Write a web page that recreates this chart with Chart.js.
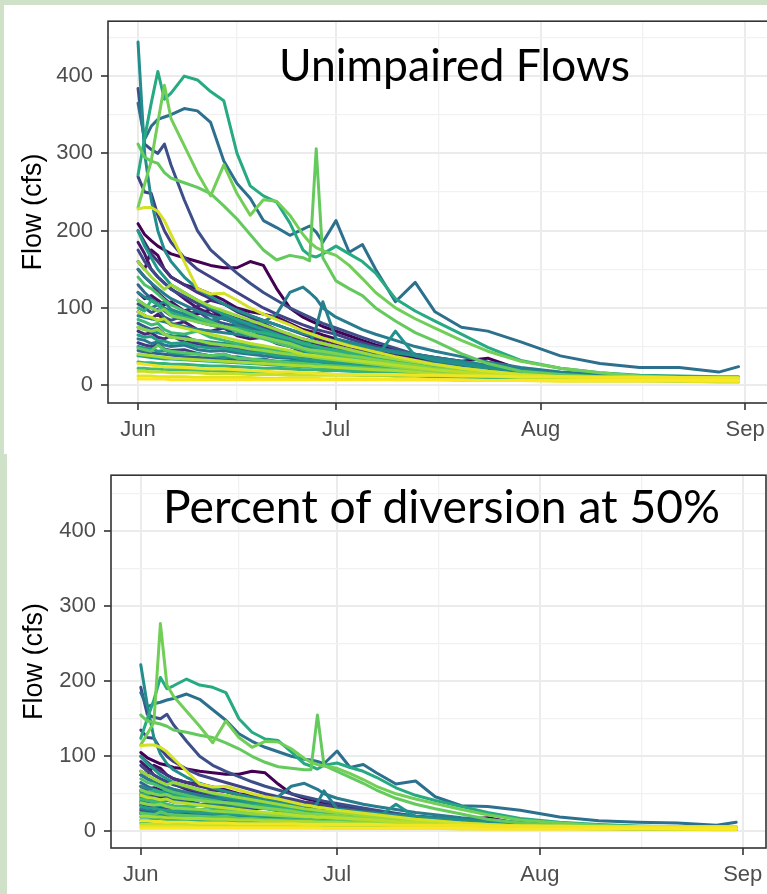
<!DOCTYPE html>
<html>
<head>
<meta charset="utf-8">
<title>Flow (cfs)</title>
<script src="https://cdn.jsdelivr.net/npm/chart.js@4.4.1/dist/chart.umd.min.js"></script>
<style>
  html, body { margin: 0; padding: 0; }
  body { width: 767px; height: 894px; overflow: hidden; background: #cfe1c8; position: relative; }
  .panel { position: absolute; background: #fff; }
  #panelTop { left: 4px; top: 5px; width: 790px; height: 449px; }
  #panelBottom { left: 7px; top: 454px; width: 790px; height: 440px; }
  canvas { position: absolute; left: 0; }
  #chartTop { top: 0; }
  #chartBottom { top: 454px; }
  .caption { position: absolute; font-family: Lato, "Open Sans", sans-serif; color: #000; white-space: nowrap; line-height: 1; }
</style>
</head>
<body>
<div class="panel" id="panelTop"></div>
<div class="panel" id="panelBottom"></div>
<canvas id="chartTop" width="790" height="452"></canvas>
<canvas id="chartBottom" width="790" height="440"></canvas>
<div class="caption" id="captionTop">Unimpaired Flows</div>
<div class="caption" id="captionBottom">Percent of diversion at 50%</div>

<script>
// days since Jun 1 for every sample in the series below
const dayGrid = [0,1,2,3,4, 5,7,9,11,13, 15,17,19,21,23, 25,26,27,28,30, 32,34,36,39,42, 45,49,53,58,64, 70,76,82,88,91];

// x axis: month starts (days since Jun 1) and their labels
const monthDays = [0, 30, 61, 92];
const monthLabels = ['Jun', 'Jul', 'Aug', 'Sep'];
const midMonthDays = [15, 45.5, 76.5];

// y axis breaks
const flowTicks = [0, 100, 200, 300, 400];
const flowMinorTicks = [50, 150, 250, 350, 450];

// unimpaired flow (cfs), one row per year, ordered by colour
const unimpairedFlows = [
  [209,195,187,180,175, 170,165,160,155,152, 152,160,155,125,100, 88,84,80,76,70, 64,58,52,46,40, 36,31,35,20,15, 12,10,9,8,8],
  [160,150,175,168,150, 140,130,125,118,110, 100,95,92,88,80, 72,70,68,65,60, 55,50,45,40,35, 30,26,22,17,13, 11,9,8,7,7],
  [120,112,116,110,104, 108,96,92,98,86, 82,84,74,70,66, 55,52,50,48,44, 40,36,33,29,25, 22,19,16,13,10, 8,7,6,6,6],
  [185,170,150,140,132, 125,112,100,92,86, 80,74,70,66,60, 55,53,50,48,45, 42,40,38,34,30, 26,22,18,14,11, 9,8,7,7,7],
  [95,90,86,92,84, 78,82,72,70,74, 64,60,62,54,50, 44,42,40,39,36, 33,30,28,25,22, 19,16,14,11,9, 8,7,6,6,6],
  [150,140,132,120,112, 105,96,102,110,105, 98,90,84,78,72, 66,63,60,58,54, 50,46,42,38,33, 29,25,21,16,13, 11,9,8,7,7],
  [70,66,68,62,60, 64,56,54,50,52, 46,44,45,40,38, 36,35,34,33,31, 29,27,25,22,20, 18,15,13,10,8, 7,6,6,5,5],
  [200,185,170,160,150, 140,130,120,112,105, 95,88,80,72,65, 58,55,52,50,46, 42,38,35,30,26, 22,18,15,12,10, 8,7,7,6,6],
  [55,52,50,53,47, 45,46,41,38,40, 35,33,34,30,28, 27,26,25,24,23, 22,21,20,18,16, 14,12,11,9,8, 7,6,6,5,5],
  [270,250,248,220,200, 185,165,150,140,130, 120,110,100,92,85, 78,75,72,70,66, 60,55,50,44,38, 33,28,23,18,14, 11,9,8,8,8],
  [175,160,150,140,132, 124,115,106,98,92, 86,80,74,69,64, 60,58,56,54,50, 46,43,40,36,32, 28,24,20,16,12, 10,9,8,7,7],
  [384,312,305,300,312, 285,240,200,175,160, 145,132,120,110,100, 92,88,84,80,74, 68,62,56,48,40, 34,28,23,18,14, 12,10,9,8,8],
  [105,100,94,98,88, 84,90,96,84,80, 76,72,64,60,56, 48,46,45,44,42, 40,38,35,31,27, 24,20,17,14,11, 9,8,7,7,7],
  [80,76,72,74,66, 62,64,56,52,54, 48,46,47,42,40, 38,37,36,35,33, 31,29,27,24,21, 18,15,13,11,9, 8,7,6,6,6],
  [45,43,42,41,40, 39,37,36,35,34, 33,31,30,29,28, 27,26,26,25,24, 23,22,21,19,17, 15,13,11,10,8, 7,6,6,5,5],
  [130,120,112,105,100, 95,88,82,78,90, 82,75,70,64,58, 54,52,50,48,45, 42,39,36,32,28, 24,20,17,13,11, 9,8,7,7,7],
  [110,104,100,104,96, 90,84,88,78,74, 70,66,62,60,55, 51,50,49,48,46, 44,42,40,36,32, 28,24,20,16,13, 11,9,8,8,8],
  [365,318,335,344,347, 350,358,355,340,290, 261,242,213,204,194, 202,206,198,185,213, 172,182,150,108,133, 95,75,70,56,38, 28,23,23,17,24],
  [60,58,54,56,52, 50,52,46,44,45, 42,40,38,36,35, 32,31,30,30,29, 28,27,26,24,22, 19,17,15,12,10, 9,8,7,7,7],
  [150,140,132,125,118, 112,104,96,90,86, 82,80,82,92,120, 127,120,112,100,88, 80,72,66,58,50, 44,37,30,23,17, 14,12,11,10,10],
  [90,88,86,84,82, 80,76,72,70,68, 66,64,62,60,58, 55,54,75,108,60, 56,52,48,44,40, 36,31,26,20,15, 12,10,9,8,8],
  [120,114,110,104,108, 98,92,86,84,88, 78,72,66,62,56, 50,48,46,44,40, 37,34,31,27,24, 21,18,15,12,10, 8,7,7,6,6],
  [444,300,240,200,175, 160,140,125,115,105, 97,90,84,78,72, 67,65,63,61,57, 53,50,47,42,38, 34,29,24,19,15, 12,10,9,9,9],
  [75,72,70,68,66, 64,60,58,56,54, 52,50,48,46,44, 42,41,40,39,37, 36,35,34,70,38, 32,27,22,17,13, 11,9,8,8,8],
  [50,48,47,44,45, 42,40,41,38,36, 37,34,33,31,31, 30,29,28,28,27, 26,25,24,22,20, 18,16,14,12,10, 9,8,7,7,7],
  [200,180,165,150,140, 130,120,110,100,92, 85,78,72,66,60, 55,52,50,48,44, 40,37,34,30,26, 22,19,16,13,10, 9,8,7,7,7],
  [65,62,63,58,57, 54,55,50,48,48, 45,42,42,38,37, 34,33,32,31,30, 28,27,25,23,20, 18,15,13,11,9, 8,7,7,6,6],
  [38,37,36,35,34, 34,33,32,31,30, 29,28,27,26,25, 24,24,23,23,22, 21,20,19,18,16, 14,12,11,9,8, 7,6,6,6,6],
  [272,320,365,406,370, 378,400,395,380,368, 300,258,245,237,210, 175,168,166,170,180, 170,160,145,112,96, 83,66,49,32,22, 16,13,12,11,11],
  [100,96,110,104,98, 94,88,84,80,76, 74,70,68,64,60, 54,52,50,48,45, 42,39,36,32,28, 24,20,17,14,11, 9,8,7,7,7],
  [30,29,29,28,28, 27,27,26,25,25, 24,23,22,22,21, 20,20,20,19,19, 18,17,17,16,15, 13,12,10,9,8, 7,6,6,5,5],
  [85,82,78,80,72, 68,66,70,62,58, 54,52,48,45,42, 38,37,36,35,33, 31,29,27,24,21, 18,16,14,11,9, 8,7,6,6,6],
  [22,22,21,21,20, 20,20,19,19,18, 18,17,17,16,16, 15,15,15,15,14, 14,13,13,12,12, 11,10,9,8,7, 6,6,5,5,5],
  [140,130,125,118,110, 104,96,88,82,76, 70,65,60,55,50, 46,44,42,41,38, 35,33,30,27,24, 21,18,15,12,10, 8,7,7,6,6],
  [48,46,44,52,46, 44,42,40,38,40, 35,34,32,31,29, 28,27,27,26,25, 24,23,22,20,18, 16,14,12,10,9, 8,7,6,6,6],
  [312,295,290,287,275, 268,262,256,248,232, 215,195,175,162,168, 165,161,306,165,135, 125,116,100,83,68, 57,41,28,18,14, 11,10,9,8,8],
  [230,260,290,340,388, 345,310,275,245,285, 248,220,240,238,220, 195,185,178,174,168, 155,138,120,100,86, 74,58,44,31,22, 16,12,10,9,9],
  [110,104,100,96,98, 90,86,82,78,76, 72,66,62,58,54, 48,46,45,44,41, 38,36,33,29,26, 22,19,16,13,10, 9,8,7,7,7],
  [75,72,70,72,66, 62,60,58,54,52, 50,47,45,42,40, 38,37,36,35,33, 31,29,27,24,21, 19,16,14,11,9, 8,7,6,6,6],
  [160,150,140,132,124, 130,120,110,102,96, 90,84,78,72,66, 60,58,56,54,50, 46,42,38,34,30, 26,22,18,14,11, 9,8,7,7,7],
  [40,39,38,37,36, 35,34,33,32,31, 30,29,28,27,26, 25,25,24,24,23, 22,21,20,19,17, 15,13,12,10,9, 8,7,6,6,6],
  [95,90,88,84,86, 78,74,70,66,62, 58,54,51,48,45, 40,39,38,37,35, 33,31,29,26,23, 20,17,15,12,10, 8,7,7,6,6],
  [18,18,17,17,17, 16,16,16,15,15, 15,14,14,14,13, 13,13,13,13,13, 13,13,13,13,13, 13,13,12,12,11, 11,11,10,10,10],
  [228,230,230,225,213, 195,160,125,118,119, 110,100,92,85,78, 70,67,64,61,56, 51,47,43,37,32, 27,22,18,14,11, 9,8,7,7,7],
  [12,12,12,11,11, 11,11,10,10,10, 10,10,9,9,9, 9,9,9,8,8, 8,8,8,7,7, 7,6,6,6,5, 5,5,5,4,4],
  [28,27,26,25,24, 24,23,22,21,21, 20,19,18,17,17, 16,16,15,15,14, 14,14,14,14,13, 13,12,12,11,11, 10,10,10,9,9],
  [8,8,8,8,8, 7,7,7,7,7, 7,7,7,7,7, 7,7,7,7,7, 7,7,7,7,7, 7,7,6,6,6, 6,6,6,6,6]
];

// flow (cfs) with 50% of the water diverted, same years and order
const divertedFlows = [
  [105,98,94,90,88, 85,83,80,78,76, 76,80,78,63,50, 44,42,40,38,35, 32,29,26,23,20, 18,16,18,10,8, 6,5,5,4,4],
  [80,75,88,84,75, 70,65,63,59,55, 50,48,46,44,40, 36,35,34,33,30, 28,25,23,20,18, 15,13,11,9,7, 6,5,4,4,4],
  [60,56,58,55,52, 54,48,46,49,43, 41,42,37,35,33, 28,26,25,24,22, 20,18,17,15,13, 11,10,8,7,5, 4,4,3,3,3],
  [93,85,75,70,66, 63,56,50,46,43, 40,37,35,33,30, 28,27,25,24,23, 21,20,19,17,15, 13,11,9,7,6, 5,4,4,4,4],
  [48,45,43,46,42, 39,41,36,35,37, 32,30,31,27,25, 22,21,20,20,18, 17,15,14,13,11, 10,8,7,6,5, 4,4,3,3,3],
  [75,70,66,60,56, 53,48,51,55,53, 49,45,42,39,36, 33,32,30,29,27, 25,23,21,19,17, 15,13,11,8,7, 6,5,4,4,4],
  [35,33,34,31,30, 32,28,27,25,26, 23,22,22,20,19, 18,18,17,17,16, 15,14,13,11,10, 9,8,7,5,4, 4,3,3,3,3],
  [100,92,85,80,75, 70,65,60,56,53, 48,44,40,36,33, 29,28,26,25,23, 21,19,18,15,13, 11,9,8,6,5, 4,4,4,3,3],
  [28,26,25,27,24, 23,23,21,19,20, 18,17,17,15,14, 14,13,13,12,12, 11,11,10,9,8, 7,6,6,5,4, 4,3,3,3,3],
  [135,125,124,110,100, 93,83,75,70,65, 60,55,50,46,43, 39,38,36,35,33, 30,28,25,22,19, 17,14,12,9,7, 6,5,4,4,4],
  [88,80,75,70,66, 62,58,53,49,46, 43,40,37,35,32, 30,29,28,27,25, 23,22,20,18,16, 14,12,10,8,6, 5,5,4,4,4],
  [192,156,152,150,156, 142,120,100,88,80, 73,66,60,55,50, 46,44,42,40,37, 34,31,28,24,20, 17,14,12,9,7, 6,5,5,4,4],
  [53,50,47,49,44, 42,45,48,42,40, 38,36,32,30,28, 24,23,23,22,21, 20,19,18,16,14, 12,10,9,7,6, 5,4,4,4,4],
  [40,38,36,37,33, 31,32,28,26,27, 24,23,23,21,20, 19,19,18,18,17, 16,15,14,12,11, 9,8,7,6,5, 4,4,3,3,3],
  [23,22,21,21,20, 20,19,18,18,17, 17,16,15,15,14, 14,13,13,13,12, 12,11,11,10,9, 8,7,6,5,4, 4,3,3,3,3],
  [65,60,56,53,50, 48,44,41,39,45, 41,38,35,32,29, 27,26,25,24,23, 21,20,18,16,14, 12,10,9,7,6, 5,4,4,4,4],
  [55,52,50,52,48, 45,42,44,39,37, 35,33,31,30,28, 26,25,25,24,23, 22,21,20,18,16, 14,12,10,8,7, 6,5,4,4,4],
  [185,166,170,172,175, 177,183,176,162,148, 130,120,112,106,100, 96,95,93,90,107, 85,89,78,63,67, 46,34,33,28,19, 14,12,11,8,12],
  [30,29,27,28,26, 25,26,23,22,22, 21,20,19,18,17, 16,16,15,15,15, 14,14,13,12,11, 10,9,8,6,5, 5,4,4,4,4],
  [75,70,66,62,59, 56,52,48,45,43, 41,40,41,46,60, 64,60,56,50,44, 40,36,33,29,25, 22,18,15,12,9, 7,6,6,5,5],
  [45,44,43,42,41, 40,38,36,35,34, 33,32,31,30,29, 28,27,38,54,30, 28,26,24,22,20, 18,16,13,10,8, 6,5,5,4,4],
  [60,57,55,52,54, 49,46,43,42,44, 39,36,33,31,28, 25,24,23,22,20, 18,17,16,14,12, 10,9,8,6,5, 4,4,3,3,3],
  [222,168,125,103,90, 82,72,64,58,53, 49,45,42,39,36, 34,33,32,31,29, 27,25,24,21,19, 17,15,12,10,8, 6,5,5,4,4],
  [38,36,35,34,33, 32,30,29,28,27, 26,25,24,23,22, 21,21,20,20,19, 18,18,17,36,19, 16,14,11,9,7, 6,5,4,4,4],
  [25,24,23,22,22, 21,20,20,19,18, 18,17,16,16,15, 15,15,14,14,14, 13,13,12,11,10, 9,8,7,6,5, 5,4,4,4,4],
  [100,90,83,75,70, 65,60,55,50,46, 43,39,36,33,30, 28,26,25,24,22, 20,19,17,15,13, 11,10,8,7,5, 5,4,4,4,4],
  [33,31,31,29,28, 27,27,25,24,24, 22,21,21,19,18, 17,17,16,16,15, 14,14,13,12,10, 9,8,7,6,5, 4,4,4,3,3],
  [19,19,18,18,17, 17,17,16,16,15, 15,14,14,13,13, 12,12,12,12,11, 11,10,10,9,8, 7,6,6,5,4, 4,3,3,3,3],
  [124,150,175,205,190, 194,203,195,192,185, 150,132,123,121,106, 90,87,83,88,91, 85,80,72,58,48, 41,33,25,17,12, 9,7,6,6,6],
  [50,48,55,52,49, 47,44,42,40,38, 37,35,34,32,30, 27,26,25,24,23, 21,20,18,16,14, 12,10,9,7,6, 5,4,4,4,4],
  [15,15,15,14,14, 14,14,13,13,13, 12,12,11,11,11, 10,10,10,10,10, 9,9,9,8,8, 7,6,5,5,4, 4,3,3,3,3],
  [43,41,39,40,36, 34,33,35,31,29, 27,26,24,23,21, 19,19,18,18,17, 16,15,14,12,11, 9,8,7,6,5, 4,4,3,3,3],
  [11,11,11,11,10, 10,10,10,10,9, 9,9,9,8,8, 8,8,8,8,7, 7,7,7,6,6, 6,5,5,4,4, 3,3,3,3,3],
  [70,65,63,59,55, 52,48,44,41,38, 35,33,30,28,25, 23,22,21,21,19, 18,17,15,14,12, 11,9,8,6,5, 4,4,4,3,3],
  [24,23,22,26,23, 22,21,20,19,20, 17,17,16,15,15, 14,14,14,13,13, 12,12,11,10,9, 8,7,6,5,5, 4,4,3,3,3],
  [155,147,145,143,140, 135,132,128,125,118, 110,100,92,86,84, 82,82,155,88,80, 72,64,55,44,36, 30,23,16,11,8, 6,5,5,4,4],
  [115,130,145,277,195, 180,160,140,118,147, 125,112,120,119,110, 97,92,89,87,84, 77,69,60,50,43, 37,29,22,15,11, 8,6,5,5,5],
  [55,52,50,48,49, 45,43,41,39,38, 36,33,31,29,27, 24,23,23,22,21, 19,18,17,15,13, 11,10,8,7,5, 5,4,4,4,4],
  [38,36,35,36,33, 31,30,29,27,26, 25,23,22,21,20, 19,19,18,18,17, 16,15,14,12,11, 10,8,7,6,5, 4,4,3,3,3],
  [80,75,70,66,62, 65,60,55,51,48, 45,42,39,36,33, 30,29,28,27,25, 23,21,19,17,15, 13,11,9,7,6, 5,4,4,4,4],
  [20,20,19,19,18, 18,17,17,16,16, 15,15,14,14,13, 13,13,12,12,12, 11,11,10,10,9, 8,7,6,5,5, 4,4,3,3,3],
  [48,45,44,42,43, 39,37,35,33,31, 29,27,25,24,22, 20,20,19,19,18, 17,16,15,13,12, 10,9,8,6,5, 4,4,4,3,3],
  [9,9,9,9,9, 8,8,8,8,8, 8,8,8,8,8, 8,8,8,8,8, 8,8,8,8,8, 7,7,7,7,6, 6,6,6,6,6],
  [114,115,115,112,106, 97,80,63,59,60, 55,50,46,43,39, 35,34,32,31,28, 26,24,22,19,16, 14,11,9,7,6, 5,4,4,4,4],
  [6,6,6,6,6, 6,6,5,5,5, 5,5,5,5,5, 5,5,5,4,4, 4,4,4,4,4, 4,3,3,3,3, 3,3,3,2,2],
  [14,14,13,13,12, 12,12,11,11,11, 10,10,10,10,10, 9,9,9,9,9, 9,9,9,8,8, 8,8,7,7,7, 6,6,6,6,6],
  [4,4,4,4,4, 4,4,4,4,4, 4,4,4,4,4, 4,4,4,4,4, 4,4,4,4,4, 4,4,3,3,3, 3,3,3,3,3]
];

// viridis colour ramp
const viridisStops = ['#440154','#482475','#414487','#355f8d','#2a788e','#21918c','#22a884','#44bf70','#7ad151','#bddf26','#fde725'];

function hexToRgb(h) {
  return [1, 3, 5].map(i => parseInt(h.slice(i, i + 2), 16));
}

function viridis(t) {
  const pos = t * (viridisStops.length - 1);
  const i = Math.min(Math.floor(pos), viridisStops.length - 2);
  const f = pos - i;
  const a = hexToRgb(viridisStops[i]);
  const b = hexToRgb(viridisStops[i + 1]);
  const c = a.map((v, k) => Math.round(v + (b[k] - v) * f));
  return `rgb(${c[0]},${c[1]},${c[2]})`;
}

const axisFont = '"Liberation Sans", Arial, sans-serif';
const gridMajor = '#ebebeb';
const gridMinor = '#f1f1f1';
const frameColor = '#333333';

// dark frame around the plotting panel, drawn on top of the lines
const panelFrame = {
  id: 'panelFrame',
  afterDatasetsDraw(chart) {
    const { ctx, chartArea: a } = chart;
    ctx.save();
    ctx.strokeStyle = frameColor;
    ctx.lineWidth = 1.6;
    ctx.strokeRect(a.left, a.top, a.right - a.left, a.bottom - a.top);
    ctx.restore();
  }
};

function buildDatasets(series) {
  return series.map((vals, i) => ({
    data: vals.map((v, k) => ({ x: dayGrid[k], y: v })),
    borderColor: viridis(i / (series.length - 1)),
    borderWidth: 3,
    borderJoinStyle: 'round',
    borderCapStyle: 'round',
    pointRadius: 0,
    tension: 0,
    fill: false,
    order: -i // later years drawn on top
  }));
}

function makeChart(canvasId, series, layout) {
  const isMonth = v => monthDays.includes(v);
  const isFlowMajor = v => flowTicks.includes(v);

  return new Chart(document.getElementById(canvasId), {
    type: 'line',
    data: { datasets: buildDatasets(series) },
    options: {
      responsive: false,
      animation: false,
      events: [],
      layout: { padding: { left: 0, top: layout.top, right: layout.right, bottom: 0 } },
      plugins: { legend: { display: false }, tooltip: { enabled: false } },
      scales: {
        x: {
          type: 'linear',
          min: -4.55,
          max: 95.55,
          afterBuildTicks: scale => {
            scale.ticks = monthDays.concat(midMonthDays).sort((a, b) => a - b).map(v => ({ value: v }));
          },
          afterFit: scale => { scale.height = layout.xHeight; },
          ticks: {
            autoSkip: false,
            maxRotation: 0,
            padding: 7,
            color: '#4d4d4d',
            font: { family: axisFont, size: 22 },
            callback: v => {
              const i = monthDays.indexOf(v);
              return i >= 0 ? monthLabels[i] : '';
            }
          },
          grid: {
            color: c => isMonth(c.tick.value) ? gridMajor : gridMinor,
            lineWidth: c => isMonth(c.tick.value) ? 2 : 1.3,
            tickColor: c => isMonth(c.tick.value) ? frameColor : 'rgba(0,0,0,0)',
            tickWidth: 1.6,
            tickLength: 7
          },
          border: { display: false }
        },
        y: {
          type: 'linear',
          min: layout.yMin,
          max: layout.yMax,
          afterBuildTicks: scale => {
            scale.ticks = flowTicks.concat(flowMinorTicks).sort((a, b) => a - b).map(v => ({ value: v }));
          },
          afterFit: scale => { scale.width = layout.yWidth; },
          ticks: {
            autoSkip: false,
            padding: 8,
            color: '#4d4d4d',
            font: { family: axisFont, size: 22 },
            callback: v => isFlowMajor(v) ? String(v) : ''
          },
          grid: {
            color: c => isFlowMajor(c.tick.value) ? gridMajor : gridMinor,
            lineWidth: c => isFlowMajor(c.tick.value) ? 2 : 1.3,
            tickColor: c => isFlowMajor(c.tick.value) ? frameColor : 'rgba(0,0,0,0)',
            tickWidth: 1.6,
            tickLength: 7
          },
          border: { display: false },
          title: {
            display: true,
            text: 'Flow (cfs)',
            color: '#000',
            font: { family: axisFont, size: 27 },
            padding: { top: layout.titleGap, bottom: 0 }
          }
        }
      }
    },
    plugins: [panelFrame]
  });
}

// fit a caption to a given width and put its baseline at a given y
function placeCaption(id, left, right, baseline) {
  const el = document.getElementById(id);
  const probe = document.createElement('canvas').getContext('2d');
  probe.font = '100px Lato';
  const w = probe.measureText(el.textContent).width;
  el.style.fontSize = (100 * (right - left) / w) + 'px';
  el.style.left = left + 'px';
  const mark = document.createElement('span');
  mark.style.cssText = 'display:inline-block;width:0;height:0;vertical-align:baseline';
  el.appendChild(mark);
  el.style.top = (baseline - mark.offsetTop) + 'px';
}

document.addEventListener('DOMContentLoaded', () => {
  makeChart('chartTop', unimpairedFlows, {
    top: 20, right: 21.4, xHeight: 49, yWidth: 108, yMin: -23, yMax: 471, titleGap: 17
  });
  makeChart('chartBottom', divertedFlows, {
    top: 15, right: 24, xHeight: 46, yWidth: 111, yMin: -22.3, yMax: 474.8, titleGap: 18
  });
  placeCaption('captionTop', 279, 630, 81);
  placeCaption('captionBottom', 163, 721, 523);
});
</script>
</body>
</html>
